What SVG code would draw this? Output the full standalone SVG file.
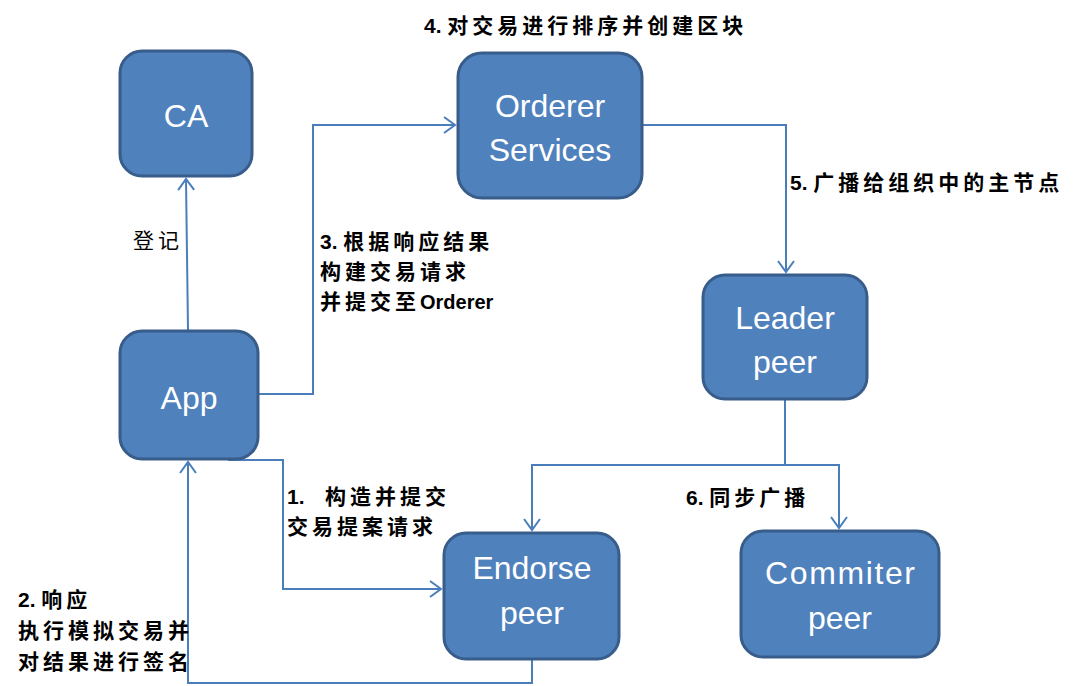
<svg xmlns="http://www.w3.org/2000/svg" width="1084" height="686" viewBox="0 0 1084 686">
<defs>
<marker id="arr" markerUnits="userSpaceOnUse" markerWidth="14" markerHeight="20" viewBox="0 0 14 20" refX="12" refY="10" orient="auto">
<path d="M1,2 L12,10 L1,18" fill="none" stroke="#4A7EBB" stroke-width="2"/>
</marker>
<style>
.node rect{fill:#4F81BD;stroke:#385D8A;stroke-width:3}
.nt{fill:#FFFFFF;font-family:"Liberation Sans",Arial,sans-serif;font-size:32px;text-anchor:middle}
.conn path{fill:none;stroke:#4A7EBB;stroke-width:2;marker-end:url(#arr)}
.lbl{fill:#000;font-family:"Liberation Sans","Noto Sans CJK SC",sans-serif;font-size:21px;font-weight:bold}
.cj{letter-spacing:4px;font-family:"Noto Sans CJK SC",sans-serif}
.reg{font-weight:normal}
</style>
</defs>
<rect width="1084" height="686" fill="#FFFFFF"/>
<g id="connectors" class="conn">
<path d="M188,330 L186,179"/>
<path d="M259,394 H313 V125 H455"/>
<path d="M643,125 H786 V272"/>
<path d="M785,400 V465 H532 V530"/>
<path d="M785,465 H839 V528"/>
<path d="M228,460 H283 V589 H441"/>
<path d="M532,660 V683 H188 V462"/>
</g>
<g id="node-ca" class="node"><rect x="120" y="51" width="132" height="125" rx="22"/><text class="nt" x="186" y="127">CA</text></g>
<g id="node-orderer" class="node"><rect x="458" y="53" width="184" height="145" rx="24"/><text class="nt" x="550" y="117">Orderer</text><text class="nt" x="550" y="161">Services</text></g>
<g id="node-app" class="node"><rect x="120" y="331" width="138" height="128" rx="22"/><text class="nt" x="189" y="409">App</text></g>
<g id="node-leader" class="node"><rect x="703" y="275" width="164" height="124" rx="22"/><text class="nt" x="785" y="329">Leader</text><text class="nt" x="785" y="373">peer</text></g>
<g id="node-endorse" class="node"><rect x="444" y="533" width="175" height="126" rx="22"/><text class="nt" x="532" y="579">Endorse</text><text class="nt" x="532" y="624">peer</text></g>
<g id="node-commiter" class="node"><rect x="741" y="531" width="198" height="126" rx="22"/><text class="nt" x="840" y="584" textLength="150">Commiter</text><text class="nt" x="840" y="629">peer</text></g>
<g id="labels">
<text class="lbl" x="424" y="33">4. <tspan class="cj">对交易进行排序并创建区块</tspan></text>
<text class="lbl" x="790" y="190">5. <tspan class="cj">广播给组织中的主节点</tspan></text>
<text class="lbl reg" x="133" y="248"><tspan class="cj">登记</tspan></text>
<text class="lbl" x="320" y="249">3. <tspan class="cj">根据响应结果</tspan></text>
<text class="lbl" x="320" y="279"><tspan class="cj">构建交易请求</tspan></text>
<text class="lbl" x="320" y="309"><tspan class="cj">并提交至</tspan><tspan font-size="20px">Orderer</tspan></text>
<text class="lbl" x="287" y="504">1.<tspan class="cj" x="325">构造并提交</tspan></text>
<text class="lbl" x="287" y="534"><tspan class="cj">交易提案请求</tspan></text>
<text class="lbl" x="686" y="505">6. <tspan class="cj">同步广播</tspan></text>
<text class="lbl" x="18" y="607">2. <tspan class="cj">响应</tspan></text>
<text class="lbl" x="18" y="638"><tspan class="cj">执行模拟交易并</tspan></text>
<text class="lbl" x="18" y="669"><tspan class="cj">对结果进行签名</tspan></text>
</g>
</svg>
